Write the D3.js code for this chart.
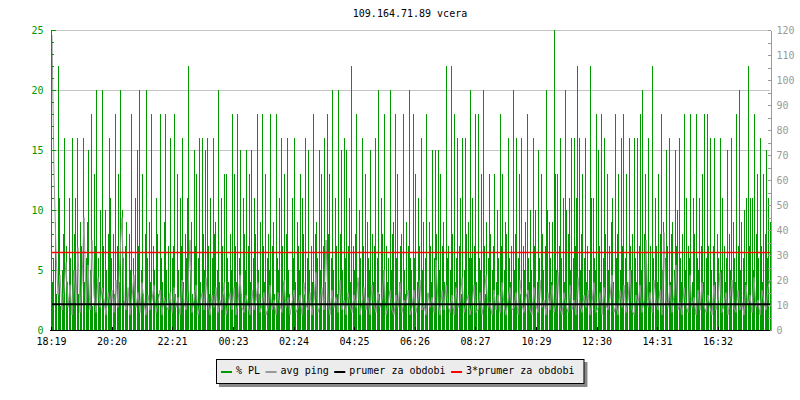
<!DOCTYPE html>
<html>
<head>
<meta charset="utf-8">
<script src="https://cdnjs.cloudflare.com/ajax/libs/d3/7.8.5/d3.min.js"></script>
<style>
  body { margin: 0; background: #fff; }
  text { font-family: "DejaVu Sans Mono", monospace; font-size: 10px; }
</style>
</head>
<body>
<svg id="svg1" width="800" height="400"></svg>
<script>

// % packet loss, one value per 2 minutes, 18:19 -> 18:17 next day (12 rows x 60)
var plData = [
  7,4,6,0,9,3,0,22,11,2,0,5,8,16,0,7,4,0,11,6,0,16,5,8,11,0,16,3,0,9,7,0,16,4,0,6,9,15,0,5,18,2,0,13,7,20,0,6,4,10,0,20,7,0,10,5,0,8,16,11,
  6,0,8,3,18,0,7,13,4,20,0,10,6,0,7,9,3,0,8,5,18,0,6,4,11,0,15,7,20,0,5,13,3,0,8,20,6,0,9,4,18,0,7,5,0,11,8,3,0,18,6,4,0,9,18,5,0,7,3,16,
  0,6,7,18,3,0,13,5,0,11,7,16,4,0,8,6,11,22,0,5,9,3,0,15,7,13,0,6,16,4,0,16,8,5,15,0,16,7,3,11,0,6,16,8,9,0,5,20,4,0,11,7,3,13,0,13,6,4,0,8,
  5,18,0,13,7,4,18,0,6,15,3,0,11,8,5,15,0,7,13,4,15,0,6,11,8,0,18,5,3,9,0,18,7,4,13,0,6,8,5,18,0,7,9,3,0,18,6,5,11,0,16,7,4,13,0,8,16,5,3,0,
  0,11,6,16,4,0,9,7,5,13,0,11,8,3,16,0,6,15,5,0,7,4,18,0,8,9,6,0,15,5,13,0,7,16,4,0,18,8,13,0,6,20,5,0,11,7,3,20,0,8,15,5,0,16,6,15,0,7,11,4,
  22,0,7,5,8,18,0,4,10,6,0,16,7,3,13,0,9,6,5,15,0,8,4,7,16,0,6,20,3,0,11,8,5,18,0,7,4,6,0,20,5,8,9,0,18,6,13,0,4,7,8,0,18,5,3,9,0,7,20,6,
  5,0,18,6,13,0,4,11,7,0,16,5,9,0,6,18,3,0,9,7,4,15,0,6,15,8,0,15,5,13,0,7,9,4,0,22,6,7,0,5,22,8,0,18,4,6,16,0,7,11,3,16,0,5,16,8,0,9,6,20,
  6,11,0,7,18,4,0,18,6,5,13,0,20,7,3,9,0,6,13,8,0,5,7,13,0,4,10,6,0,18,7,13,0,5,9,8,0,16,6,4,7,0,20,5,8,16,0,6,13,3,16,0,7,5,9,0,18,6,4,10,
  5,0,16,7,10,0,4,15,6,0,13,8,5,0,7,20,10,0,9,6,4,9,0,25,13,5,13,0,7,16,6,0,11,4,20,10,0,8,11,5,16,0,6,16,7,11,22,0,16,5,8,13,0,6,16,4,7,0,5,22,
  11,0,11,6,5,18,0,15,7,4,18,0,6,16,8,0,13,5,7,0,9,11,4,0,18,6,8,13,0,5,16,7,18,0,6,13,4,0,16,7,5,8,0,16,6,4,16,0,7,18,5,20,0,8,13,6,0,16,4,7,
  0,22,6,0,11,7,4,13,0,8,18,5,9,0,6,15,7,0,16,4,8,9,0,5,15,7,10,0,16,6,4,8,0,18,5,11,0,7,6,18,0,4,11,8,0,18,6,5,11,0,7,13,4,18,0,6,18,7,0,16,
  5,0,7,16,4,0,8,6,0,16,5,11,0,7,4,6,15,0,8,5,16,0,9,6,4,18,0,7,20,5,9,0,6,10,4,11,0,22,7,11,0,11,5,18,0,8,13,6,0,16,7,4,13,0,8,15,6,11,0,9
];

// avg ping in ms, one value per 4 minutes (12 rows x 30)
var pingData = [
  118,63,31,14,22,8,16,27,9,18,6,24,11,33,7,19,45,10,26,8,36,14,7,21,9,17,12,6,15,10,
  16,7,20,9,30,45,12,8,17,6,13,22,9,15,7,19,11,6,14,8,12,18,7,11,16,6,13,10,8,15,
  7,17,9,13,6,20,11,8,16,36,7,12,18,6,10,15,8,21,11,6,14,9,17,7,12,8,19,6,10,15,
  8,17,6,11,22,9,7,14,10,6,16,8,12,19,7,10,15,6,9,18,8,12,6,15,10,7,20,9,13,6,
  11,16,7,9,14,6,19,10,8,15,6,12,23,7,10,17,8,36,12,6,16,9,13,7,20,8,12,6,15,10,
  7,14,9,21,6,11,17,8,13,6,18,10,7,15,9,12,24,6,10,16,8,6,14,9,19,7,12,10,16,6,
  9,16,7,12,20,8,10,6,15,9,13,7,28,11,6,16,8,18,10,7,14,6,17,9,11,21,7,10,14,6,
  10,18,7,8,15,6,12,22,9,11,6,16,8,14,7,19,10,6,12,17,8,9,15,6,20,10,7,13,16,8,
  6,17,10,7,20,9,12,6,15,8,18,7,11,23,9,6,15,10,7,18,8,12,6,21,10,7,14,9,16,6,
  11,19,7,9,15,6,17,10,8,13,22,7,10,6,16,9,18,7,12,24,8,6,14,10,18,7,12,36,9,15,
  7,20,11,8,16,6,39,12,9,18,7,14,26,8,11,6,17,10,7,22,9,13,6,16,8,19,10,7,14,9,
  6,18,8,12,23,7,10,15,6,13,20,9,7,16,8,11,6,18,10,14,7,21,9,12,6,16,11,8,17,20
];

var pingMean = 10.35;   // "prumer za obdobi" (ms)

var timeLabels = ["18:19","20:20","22:21","00:23","02:24","04:25","06:26","08:27","10:29","12:30","14:31","16:32"];

var leftTicks = [0,5,10,15,20,25];
var rightTicks = [0,10,20,30,40,50,60,70,80,90,100,110,120];

var legendItems = [
  {label: "% PL", color: "#009900"},
  {label: "avg ping", color: "#999999"},
  {label: "prumer za obdobi", color: "#000000"},
  {label: "3*prumer za obdobi", color: "#ff0000"}
];

var pLeft = 51, pRight = 771, pTop = 30, pBottom = 330;
var svg = d3.select("#svg1");

var t0 = new Date(2020, 0, 1, 18, 19);
function addMin(t, m) { return new Date(t.getTime() + m * 60000); }

var x = d3.scaleTime()
    .domain([t0, addMin(t0, plData.length * 2)])
    .range([pLeft, pRight]);
var yL = d3.scaleLinear().domain([0, 25]).range([pBottom, pTop]);
var yR = d3.scaleLinear().domain([0, 120]).range([pBottom, pTop]);

// title
svg.append("text")
   .attr("x", 410)
   .attr("y", 17)
   .attr("text-anchor", "middle")
   .attr("fill", "#000")
   .text("109.164.71.89 vcera");

// grid
svg.append("g").selectAll("line")
   .data(leftTicks.slice(1))
 .enter().append("line")
   .attr("x1", pLeft).attr("x2", pRight - 1)
   .attr("y1", function(d) { return Math.round(yL(d)) + 0.5; })
   .attr("y2", function(d) { return Math.round(yL(d)) + 0.5; })
   .attr("stroke", "#c4c4c4");

// % PL bars
svg.append("g").selectAll("rect")
   .data(plData)
 .enter().append("rect")
   .attr("shape-rendering", "crispEdges")
   .attr("fill", "#009900")
   .attr("x", function(d, i) { return Math.round(x(addMin(t0, i * 2))); })
   .attr("width", function(d, i) { return Math.round(x(addMin(t0, i * 2 + 2))) - Math.round(x(addMin(t0, i * 2))); })
   .attr("y", function(d) { return Math.round(yL(d)); })
   .attr("height", function(d) { return pBottom - Math.round(yL(d)); });

// avg ping
var pingLine = d3.line()
    .x(function(d, i) { return x(addMin(t0, i * 4)) + 1; })
    .y(function(d) { return yR(d); });

svg.append("path")
   .datum(pingData)
   .attr("fill", "none")
   .attr("stroke", "#999999")
   .attr("stroke-width", 1)
   .attr("d", pingLine);

// mean lines
svg.append("line")
   .attr("x1", pLeft).attr("x2", pRight - 1)
   .attr("y1", yR(pingMean)).attr("y2", yR(pingMean))
   .attr("stroke", "#000").attr("stroke-width", 2);

svg.append("line")
   .attr("x1", pLeft).attr("x2", pRight - 1)
   .attr("y1", yR(pingMean * 3)).attr("y2", yR(pingMean * 3))
   .attr("stroke", "#ff0000").attr("stroke-width", 1.5);

// left axis (green)
var yAxisMinor = d3.axisLeft(yL).tickValues(d3.range(0, 26)).tickSizeInner(-3).tickSizeOuter(0).tickFormat("");
var yAxisMajor = d3.axisLeft(yL).tickValues(leftTicks).tickSizeInner(-5).tickSizeOuter(0).tickPadding(7);

var gl1 = svg.append("g").attr("transform", "translate(" + (pLeft - 0.5) + ",0)").call(yAxisMinor);
var gl = svg.append("g").attr("transform", "translate(" + (pLeft - 0.5) + ",0)").call(yAxisMajor);
gl1.selectAll("path, line").attr("stroke", "#009900").attr("shape-rendering", "crispEdges");
gl.selectAll("path, line").attr("stroke", "#009900").attr("shape-rendering", "crispEdges");
gl.selectAll("text").attr("fill", "#009900").style("font-size", "10px").style("font-family", "DejaVu Sans Mono");

// right axis (gray)
var rAxisMinor = d3.axisRight(yR).tickValues(d3.range(0, 121, 5)).tickSizeInner(-3).tickSizeOuter(0).tickFormat("");
var rAxisMajor = d3.axisRight(yR).tickValues(rightTicks).tickSizeInner(-3).tickSizeOuter(0).tickPadding(6);

var gr1 = svg.append("g").attr("transform", "translate(" + (pRight - 0.5) + ",0)").call(rAxisMinor);
var gr = svg.append("g").attr("transform", "translate(" + (pRight - 0.5) + ",0)").call(rAxisMajor);
gr1.selectAll("path, line").attr("stroke", "#999999").attr("shape-rendering", "crispEdges");
gr.selectAll("path, line").attr("stroke", "#999999").attr("shape-rendering", "crispEdges");
gr.selectAll("text").attr("fill", "#999999").style("font-size", "10px").style("font-family", "DejaVu Sans Mono");

// bottom axis
var tickDates = timeLabels.map(function(s) {
  var p = s.split(":"), m = (+p[0]) * 60 + (+p[1]) - (18 * 60 + 19);
  if (m < 0) m += 24 * 60;
  return addMin(t0, m);
});
var xAxis = d3.axisBottom(x)
    .tickValues(tickDates)
    .tickSizeInner(-4).tickSizeOuter(0).tickPadding(7)
    .tickFormat(d3.timeFormat("%H:%M"));

var gx = svg.append("g").attr("transform", "translate(0," + (pBottom + 0.5) + ")").call(xAxis);
gx.select(".domain").attr("d", "M" + (pLeft - 1) + ",0H" + (pRight - 1));
gx.selectAll("path, line").attr("stroke", "#000").attr("shape-rendering", "crispEdges");
gx.selectAll("text").attr("fill", "#000").style("font-size", "10px").style("font-family", "DejaVu Sans Mono");

// legend
var lg = svg.append("g");
var lx = 0;
var items = [];
legendItems.forEach(function(d) {
  var t = lg.append("text").attr("y", 374).attr("fill", "#000").text(d.label);
  var w = t.node().getComputedTextLength();
  items.push({sx: lx, tx: lx + 15, t: t, color: d.color});
  lx = lx + 15 + w + 5.5;
});
var legW = lx - 5.5 + 9 + 5;
var legX = Math.round(400 - legW / 2);

lg.insert("rect", ":first-child")
  .attr("x", legX + 0.5).attr("y", 359.5).attr("width", legW).attr("height", 24)
  .attr("fill", "#ececec").attr("stroke", "#000");
lg.insert("rect", ":first-child")
  .attr("x", legX + 3).attr("y", 362).attr("width", legW + 1).attr("height", 25)
  .attr("fill", "#888888");

items.forEach(function(it) {
  it.t.attr("x", legX + 5 + it.tx);
  lg.append("line")
    .attr("x1", legX + 5 + it.sx).attr("x2", legX + 5 + it.sx + 11)
    .attr("y1", 372).attr("y2", 372)
    .attr("stroke", it.color).attr("stroke-width", 2);
});

</script>
</body>
</html>
